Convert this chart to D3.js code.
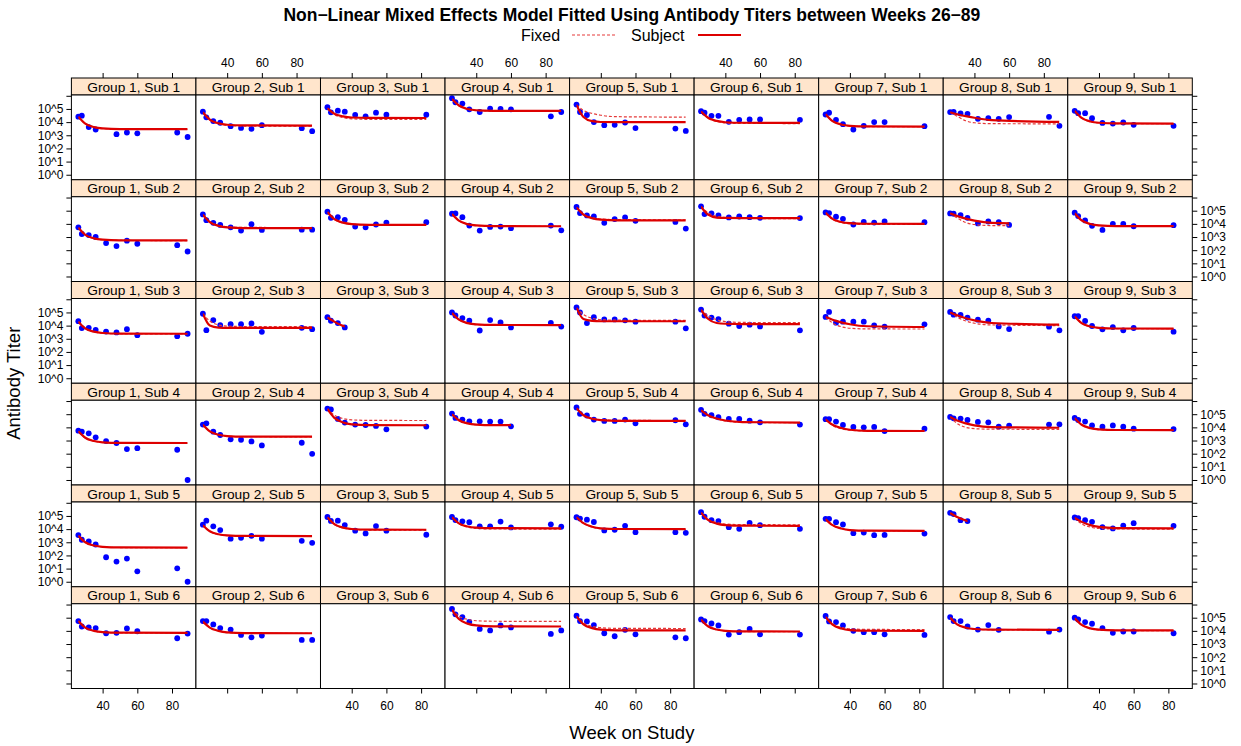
<!DOCTYPE html>
<html><head><meta charset="utf-8">
<script src="https://cdn.jsdelivr.net/npm/d3@7"></script>
<style>
body{margin:0;background:#fff}
svg{display:block}
text{font-family:"Liberation Sans",Arial,Helvetica,sans-serif;fill:#000}
</style>
</head><body>
<svg id="c" width="1241" height="746"></svg>
<script>
// ---------------- data ----------------
const groups = [1, 2, 3, 4, 5, 6, 7, 8, 9];
const subjects = [1, 2, 3, 4, 5, 6];
const visitWeeks = [26, 28, 32, 36, 42, 48, 54, 60, 83, 89];
const fitWeeks = [26, 30, 35, 40, 50, 89];
const xTicks = [40, 60, 80];
const yTicks = [0, 1, 2, 3, 4, 5, 6];
const yTickLabels = ["10^0", "10^1", "10^2", "10^3", "10^4", "10^5", ""];
const titleText = "Non\u2212Linear Mixed Effects Model Fitted Using Antibody Titers between Weeks 26\u221289";
const legendLabels = ["Fixed", "Subject"];

// log10 antibody titer per panel (Sub 1..6, each Group 1..9), at visitWeeks
const log10Titer = [
  // Sub 1
  [4.41, 4.49, 3.62, 3.44, null, 3.08, 3.21, 3.15, 3.21, 2.87],
  [4.79, 4.36, 4.08, 3.95, 3.69, 3.56, 3.49, 3.77, 3.54, 3.31],
  [5.13, 4.74, 4.87, 4.79, 4.54, 4.44, 4.72, 4.56, 4.56, null],
  [5.82, 5.51, 5.41, 4.97, 4.77, 5.03, 5.00, 4.97, 4.44, 4.77],
  [5.33, 4.77, 4.54, 4.00, 3.77, 3.79, 3.97, 3.55, 3.51, 3.33],
  [4.83, 4.71, 4.48, 4.48, 4.02, 4.17, 4.20, 4.20, 4.17, null],
  [4.58, 4.71, 4.17, 3.84, 3.44, 3.72, 4.00, 4.00, 3.69, null],
  [4.76, 4.78, 4.66, 4.63, 4.25, 4.30, 4.25, 4.38, 4.40, 3.72],
  [4.86, 4.68, 4.68, 4.30, 3.94, 3.89, 3.97, 3.79, 3.72, null],
  // Sub 2
  [3.74, 3.23, 3.15, 3.00, 2.54, 2.31, 2.72, 2.49, 2.38, 1.90],
  [4.72, 4.28, 4.08, 3.92, 3.74, 3.49, 3.97, 3.54, 3.56, 3.56],
  [4.92, 4.46, 4.51, 4.31, 3.79, 3.74, 3.95, 4.10, 4.13, null],
  [4.77, 4.79, 4.51, 3.87, 3.49, 3.77, 3.79, 3.67, 3.87, 3.51],
  [5.28, 4.82, 4.64, 4.56, 4.08, 4.36, 4.49, 4.23, 4.15, 3.64],
  [5.33, 4.74, 4.79, 4.64, 4.49, 4.56, 4.51, 4.46, 4.44, null],
  [4.87, 4.82, 4.54, 4.38, 3.95, 4.15, 4.10, 4.18, 4.13, null],
  [4.79, 4.77, 4.67, 4.46, 4.03, 4.18, 4.13, 3.92, null, null],
  [4.85, 4.59, 4.26, 3.85, 3.54, 4.00, 4.00, 3.82, 3.90, null],
  // Sub 3
  [4.34, 3.81, 3.83, 3.68, 3.55, 3.48, 3.73, 3.27, 3.20, 3.38],
  [4.90, 3.65, 4.42, 4.04, 4.11, 4.11, 4.16, 3.53, 3.83, 3.73],
  [4.64, 4.37, 4.19, 3.86, null, null, null, null, null, null],
  [5.00, 4.77, 4.57, 4.37, 3.63, 4.42, 4.24, 3.86, 4.21, 3.93],
  [5.38, 5.00, 4.19, 4.64, 4.47, 4.47, 4.40, 4.30, 4.30, 3.79],
  [5.22, 4.76, 4.61, 4.50, 4.15, 3.97, 4.07, 3.94, 3.64, null],
  [4.66, 5.04, 4.22, 4.30, 4.30, 4.30, 4.02, 3.92, 4.10, null],
  [5.04, 4.83, 4.81, 4.61, 4.45, 4.38, 3.94, 3.74, 3.92, 3.64],
  [4.71, 4.71, 4.35, 3.97, 3.72, 3.89, 3.64, 3.82, 3.54, null],
  // Sub 4
  [3.75, 3.67, 3.55, 3.24, 2.96, 2.81, 2.35, 2.42, 2.30, 0.00],
  [4.21, 4.31, 3.67, 3.42, 3.09, 3.06, 2.93, 2.63, 2.83, 1.99],
  [5.43, 5.36, 4.64, 4.36, 4.21, 4.18, 4.11, 3.85, 4.06, null],
  [5.05, 4.72, 4.59, 4.46, 4.46, 4.44, 4.44, 4.08, null, null],
  [5.51, 5.03, 4.90, 4.59, 4.49, 4.49, 4.59, 4.31, 4.54, 4.23],
  [5.33, 5.03, 4.92, 4.77, 4.64, 4.64, 4.51, 4.38, 4.21, null],
  [4.62, 4.62, 4.44, 4.18, 4.03, 4.00, 4.03, 3.72, 3.90, null],
  [4.79, 4.69, 4.67, 4.56, 4.41, 4.38, 4.05, 4.13, 4.21, 4.23],
  [4.72, 4.56, 4.44, 4.15, 4.05, 4.15, 4.05, 3.90, 3.87, null],
  // Sub 5
  [3.55, 3.19, 3.06, 2.83, 1.86, 1.53, 1.76, 0.79, 1.02, 0.00],
  [4.34, 4.64, 4.21, 3.93, 3.27, 3.34, 3.49, 3.27, 3.11, 2.96],
  [4.92, 4.62, 4.64, 4.31, 3.88, 3.67, 4.23, 3.88, 3.57, null],
  [4.92, 4.69, 4.59, 4.52, 4.21, 4.21, 4.57, 4.13, 4.36, 4.18],
  [4.90, 4.80, 4.72, 4.54, 3.90, 3.95, 4.25, 3.77, 3.77, 3.72],
  [5.29, 4.94, 4.68, 4.61, 4.15, 4.02, 4.48, 4.30, 4.02, null],
  [4.78, 4.78, 4.53, 4.35, 3.69, 3.74, 3.54, 3.56, 3.66, null],
  [5.24, 5.14, 4.68, 4.61, null, null, null, null, null, null],
  [4.89, 4.83, 4.68, 4.55, 4.15, 4.05, 4.27, 4.45, 4.25, null],
  // Sub 6
  [4.74, 4.33, 4.26, 4.21, 3.82, 3.85, 4.18, 3.97, 3.44, 3.79],
  [4.74, 4.74, 4.49, 4.21, 4.10, 3.69, 3.51, 3.64, 3.31, 3.31],
  [null, null, null, null, null, null, null, null, null, null],
  [5.67, 5.26, 5.05, 4.69, 4.15, 4.03, 4.41, 4.26, 3.77, 4.03],
  [5.15, 4.74, 4.72, 4.44, 3.82, 3.59, 4.08, 3.74, 3.51, 3.44],
  [4.87, 4.74, 4.56, 4.41, 3.72, 3.90, 4.15, 3.74, 3.72, null],
  [5.13, 4.72, 4.67, 4.41, 4.00, 3.90, 3.90, 3.74, 3.69, null],
  [5.05, 4.74, 4.74, 4.33, 4.10, 4.44, 4.08, null, 3.94, 4.10],
  [5.00, 4.87, 4.67, 4.54, 4.21, 3.85, 3.95, 3.95, 3.82, null]
];

// subject-level fitted curve (log10), at fitWeeks
const subjectFit = [
  // Sub 1
  [4.40, 3.88, 3.62, 3.52, 3.47, 3.46],
  [4.75, 4.19, 3.91, 3.80, 3.75, 3.74],
  [5.05, 4.64, 4.44, 4.35, 4.32, 4.31],
  [5.75, 5.26, 5.00, 4.90, 4.86, 4.85],
  [5.30, 4.39, 4.07, 4.01, 4.00, 4.00],
  [4.80, 4.33, 4.09, 3.99, 3.95, 3.94],
  [4.60, 4.08, 3.82, 3.72, 3.67, 3.66],
  [4.75, 4.60, 4.45, 4.33, 4.15, 4.02],
  [4.85, 4.32, 4.05, 3.95, 3.90, 3.89],
  // Sub 2
  [3.70, 3.17, 2.90, 2.80, 2.75, 2.74],
  [4.70, 4.13, 3.85, 3.73, 3.68, 3.67],
  [4.90, 4.36, 4.09, 3.98, 3.93, 3.92],
  [4.75, 4.24, 3.98, 3.88, 3.83, 3.82],
  [5.25, 4.71, 4.43, 4.32, 4.27, 4.26],
  [5.30, 4.70, 4.48, 4.45, 4.44, 4.44],
  [4.85, 4.38, 4.14, 4.05, 4.01, 4.00],
  [4.80, 4.60, 4.40, 4.25, 4.08, 3.98],
  [4.80, 4.26, 3.99, 3.88, 3.83, 3.82],
  // Sub 3
  [4.30, 3.79, 3.54, 3.44, 3.39, 3.38],
  [4.90, 4.00, 3.85, 3.83, 3.83, 3.83],
  [4.62, 4.30, 3.98, 3.85, 3.75, 3.70],
  [4.95, 4.45, 4.19, 4.09, 4.05, 4.04],
  [5.35, 4.50, 4.36, 4.33, 4.33, 4.33],
  [5.20, 4.52, 4.20, 4.14, 4.12, 4.12],
  [4.65, 4.45, 4.25, 4.10, 3.95, 3.89],
  [5.00, 4.78, 4.56, 4.40, 4.20, 4.07],
  [4.70, 4.19, 3.93, 3.83, 3.78, 3.77],
  // Sub 4
  [3.70, 3.21, 2.96, 2.86, 2.82, 2.81],
  [4.20, 3.70, 3.44, 3.34, 3.30, 3.29],
  [5.40, 4.72, 4.37, 4.23, 4.17, 4.16],
  [5.00, 4.54, 4.30, 4.21, 4.17, 4.16],
  [5.45, 4.92, 4.65, 4.55, 4.50, 4.49],
  [5.30, 4.92, 4.67, 4.52, 4.40, 4.36],
  [4.60, 4.20, 3.95, 3.82, 3.74, 3.72],
  [4.80, 4.52, 4.30, 4.15, 4.02, 3.97],
  [4.70, 4.20, 3.94, 3.84, 3.80, 3.79],
  // Sub 5
  [3.50, 3.00, 2.75, 2.65, 2.61, 2.60],
  [4.30, 3.84, 3.61, 3.52, 3.48, 3.47],
  [4.90, 4.38, 4.11, 4.01, 3.96, 3.95],
  [4.90, 4.44, 4.20, 4.11, 4.07, 4.06],
  [4.90, 4.45, 4.18, 4.06, 4.01, 4.00],
  [5.25, 4.70, 4.42, 4.31, 4.26, 4.25],
  [4.75, 4.30, 4.05, 3.93, 3.88, 3.87],
  [5.22, 4.92, 4.66, 4.50, 4.40, 4.35],
  [4.85, 4.55, 4.30, 4.17, 4.08, 4.05],
  // Sub 6
  [4.75, 4.25, 4.00, 3.90, 3.86, 3.85],
  [4.70, 4.25, 4.00, 3.88, 3.83, 3.82],
  null,
  [5.60, 4.90, 4.55, 4.41, 4.34, 4.33],
  [5.10, 4.50, 4.21, 4.09, 4.04, 4.03],
  [4.85, 4.35, 4.10, 4.00, 3.96, 3.95],
  [5.05, 4.47, 4.18, 4.06, 4.01, 4.00],
  [5.00, 4.50, 4.24, 4.14, 4.09, 4.08],
  [4.95, 4.45, 4.19, 4.09, 4.04, 4.03]
];

// population (fixed effects) fitted curve (log10), at fitWeeks
const fixedFit = [
  // Sub 1
  [4.40, 3.87, 3.61, 3.51, 3.46, 3.45],
  [4.75, 4.16, 3.88, 3.75, 3.70, 3.69],
  [5.05, 4.58, 4.34, 4.25, 4.21, 4.20],
  [5.75, 5.25, 4.98, 4.88, 4.84, 4.83],
  [5.30, 4.89, 4.66, 4.52, 4.41, 4.38],
  [4.80, 4.30, 4.05, 3.94, 3.90, 3.89],
  [4.60, 4.07, 3.81, 3.71, 3.66, 3.65],
  [4.75, 4.45, 4.10, 3.95, 3.88, 3.87],
  [4.85, 4.31, 4.04, 3.94, 3.89, 3.88],
  // Sub 2
  [3.70, 3.16, 2.89, 2.79, 2.74, 2.73],
  [4.70, 4.16, 3.89, 3.78, 3.73, 3.72],
  [4.90, 4.35, 4.08, 3.97, 3.92, 3.91],
  [4.75, 4.23, 3.97, 3.87, 3.82, 3.81],
  [5.25, 4.73, 4.47, 4.37, 4.32, 4.31],
  [5.30, 4.85, 4.58, 4.47, 4.41, 4.40],
  [4.85, 4.36, 4.10, 4.00, 3.96, 3.95],
  [4.80, 4.45, 4.10, 3.95, 3.87, 3.85],
  [4.80, 4.25, 3.98, 3.87, 3.82, 3.81],
  // Sub 3
  [4.30, 3.78, 3.53, 3.43, 3.38, 3.37],
  [4.90, 4.35, 4.05, 3.96, 3.93, 3.92],
  [4.62, 4.28, 3.96, 3.83, 3.73, 3.68],
  [4.95, 4.44, 4.18, 4.08, 4.04, 4.03],
  [5.35, 4.85, 4.56, 4.45, 4.41, 4.40],
  [5.20, 4.75, 4.45, 4.31, 4.24, 4.22],
  [4.65, 4.20, 3.92, 3.80, 3.75, 3.74],
  [5.00, 4.65, 4.35, 4.18, 4.05, 4.00],
  [4.70, 4.18, 3.92, 3.82, 3.77, 3.76],
  // Sub 4
  [3.70, 3.20, 2.95, 2.85, 2.81, 2.80],
  [4.20, 3.69, 3.43, 3.33, 3.29, 3.28],
  [5.40, 4.92, 4.67, 4.57, 4.53, 4.52],
  [5.00, 4.53, 4.29, 4.20, 4.16, 4.15],
  [5.45, 4.94, 4.68, 4.58, 4.53, 4.52],
  [5.30, 4.90, 4.64, 4.49, 4.38, 4.35],
  [4.60, 4.15, 3.90, 3.79, 3.73, 3.71],
  [4.80, 4.30, 4.00, 3.90, 3.86, 3.85],
  [4.70, 4.19, 3.93, 3.83, 3.79, 3.78],
  // Sub 5
  [3.50, 2.99, 2.74, 2.64, 2.60, 2.59],
  [4.30, 3.83, 3.60, 3.51, 3.47, 3.46],
  [4.90, 4.36, 4.09, 3.98, 3.93, 3.92],
  [4.90, 4.40, 4.15, 4.05, 4.01, 4.00],
  [4.90, 4.43, 4.16, 4.03, 3.98, 3.97],
  [5.25, 4.75, 4.49, 4.39, 4.34, 4.33],
  [4.75, 4.29, 4.04, 3.92, 3.87, 3.86],
  [5.22, 4.91, 4.65, 4.49, 4.39, 4.34],
  [4.85, 4.40, 4.15, 4.05, 4.01, 4.00],
  // Sub 6
  [4.75, 4.24, 3.99, 3.89, 3.85, 3.84],
  [4.70, 4.24, 3.99, 3.87, 3.82, 3.81],
  null,
  [5.60, 5.12, 4.87, 4.77, 4.73, 4.72],
  [5.10, 4.59, 4.34, 4.24, 4.19, 4.18],
  [4.85, 4.34, 4.09, 3.99, 3.95, 3.94],
  [5.05, 4.53, 4.26, 4.16, 4.11, 4.10],
  [5.00, 4.49, 4.23, 4.13, 4.08, 4.07],
  [4.95, 4.44, 4.18, 4.08, 4.03, 4.02]
];

// ---------------- layout ----------------
const svg = d3.select("#c");
const L = 71.4, R = 1192.3, T = 78, rowH = 101.75, stripH = 17;
const nCol = groups.length, nRow = subjects.length;
const colW = (R - L) / nCol, panelH = rowH - stripH;
const B = T + nRow * rowH;
const RED = "#dd0000", BLUE = "#0000ff", STRIP = "#ffe5cc";

const x = d3.scaleLinear().domain([22, 93.8]).range([0, colW]);
const y = d3.scaleLinear().domain([-0.38, 6.06]).range([panelH, 0]);
const line = d3.line().x(d => x(d[0])).y(d => y(d[1])).curve(d3.curveMonotoneX);

const defs = svg.append("defs");

function styleAxis(g, fs) {
  g.select(".domain").remove();
  g.selectAll(".tick line").attr("stroke", "#000").attr("stroke-width", 1);
  g.selectAll(".tick text").attr("fill", "#000").style("font-size", fs + "px")
    .style("font-family", '"Liberation Sans",Arial,Helvetica,sans-serif');
}

subjects.forEach((s, si) => {
  groups.forEach((g, gi) => {
    const idx = si * nCol + gi;
    const px = L + gi * colW, py = T + si * rowH;
    const gp = svg.append("g").attr("transform", `translate(${px},${py})`);
    // strip
    gp.append("rect").attr("x", 0).attr("y", 0).attr("width", colW).attr("height", stripH)
      .attr("fill", STRIP).attr("stroke", "#000").attr("stroke-width", 1);
    gp.append("text").attr("x", colW / 2).attr("y", stripH / 2 + 5)
      .attr("text-anchor", "middle").style("font-size", "13.7px")
      .text(`Group ${g}, Sub ${s}`);
    const pg = gp.append("g").attr("transform", `translate(0,${stripH})`);
    pg.append("rect").attr("width", colW).attr("height", panelH).attr("fill", "#fff");

    const pts = visitWeeks.map((w, k) => [w, log10Titer[idx][k]]).filter(d => d[1] !== null);
    pg.selectAll("circle").data(pts).enter().append("circle")
      .attr("cx", d => x(d[0])).attr("cy", d => y(d[1])).attr("r", 2.9)
      .attr("fill", BLUE);

    if (pts.length && subjectFit[idx]) {
      const lastWeek = pts[pts.length - 1][0];
      const cid = "clip" + idx;
      defs.append("clipPath").attr("id", cid).append("rect")
        .attr("x", x(fitWeeks[0])).attr("y", -5).attr("width", x(lastWeek) - x(fitWeeks[0]))
        .attr("height", panelH + 10);
      const cg = pg.append("g").attr("clip-path", `url(#${cid})`);
      cg.append("path").attr("d", line(fitWeeks.map((w, k) => [w, fixedFit[idx][k]])))
        .attr("fill", "none").attr("stroke", "#e53a3a").attr("stroke-width", 1.2)
        .attr("stroke-dasharray", "3,2");
      cg.append("path").attr("d", line(fitWeeks.map((w, k) => [w, subjectFit[idx][k]])))
        .attr("fill", "none").attr("stroke", RED).attr("stroke-width", 2.2);
    }
    pg.append("rect").attr("width", colW).attr("height", panelH)
      .attr("fill", "none").attr("stroke", "#000").attr("stroke-width", 1);
  });
});

// y axes (alternating)
subjects.forEach((s, si) => {
  const py = T + si * rowH + stripH;
  const labLeft = si % 2 === 0;
  const la = svg.append("g").attr("transform", `translate(${L},${py})`)
    .call(d3.axisLeft(y).tickValues(yTicks).tickSize(5).tickPadding(3)
      .tickFormat((d, i) => labLeft ? yTickLabels[i] : ""));
  styleAxis(la, 12);
  const ra = svg.append("g").attr("transform", `translate(${R},${py})`)
    .call(d3.axisRight(y).tickValues(yTicks).tickSize(5).tickPadding(3)
      .tickFormat((d, i) => labLeft ? "" : yTickLabels[i]));
  styleAxis(ra, 12);
});

// x axes (alternating)
groups.forEach((g, gi) => {
  const px = L + gi * colW;
  const labTop = gi % 2 === 1;
  const ta = svg.append("g").attr("transform", `translate(${px},${T})`)
    .call(d3.axisTop(x).tickValues(xTicks).tickSize(5).tickPadding(6)
      .tickFormat(d => labTop ? d : ""));
  styleAxis(ta, 12);
  const ba = svg.append("g").attr("transform", `translate(${px},${B})`)
    .call(d3.axisBottom(x).tickValues(xTicks).tickSize(5).tickPadding(8)
      .tickFormat(d => labTop ? "" : d));
  styleAxis(ba, 12);
});

// titles
const cx = (L + R) / 2;
svg.append("text").attr("x", cx).attr("y", 21).attr("text-anchor", "middle")
  .style("font-size", "17.5px").style("font-weight", "bold").text(titleText);
svg.append("text").attr("x", cx).attr("y", 739).attr("text-anchor", "middle")
  .style("font-size", "18.5px").text("Week on Study");
svg.append("text").attr("transform", `translate(20,${(T + B) / 2}) rotate(-90)`)
  .attr("text-anchor", "middle").style("font-size", "18.5px").text("Antibody Titer");

// legend (centred under the title)
const lg = svg.append("g");
lg.append("text").attr("x", 521).attr("y", 41).style("font-size", "16px").text(legendLabels[0]);
lg.append("line").attr("x1", 572).attr("x2", 615).attr("y1", 35).attr("y2", 35)
  .attr("stroke", "#e53a3a").attr("stroke-width", 1.2).attr("stroke-dasharray", "3,2");
lg.append("text").attr("x", 631).attr("y", 41).style("font-size", "16px").text(legendLabels[1]);
lg.append("line").attr("x1", 698).attr("x2", 741).attr("y1", 35).attr("y2", 35)
  .attr("stroke", RED).attr("stroke-width", 2.2);
</script>
</body></html>
